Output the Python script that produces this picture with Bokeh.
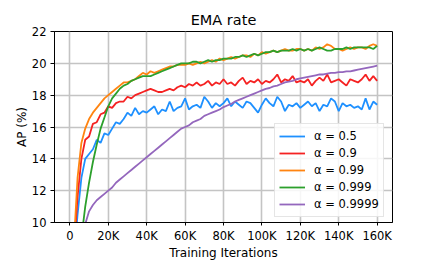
from bokeh.plotting import figure
from bokeh.models import Range1d, FixedTicker, Legend, LegendItem
from bokeh.embed import file_html
from bokeh.resources import INLINE

# training iterations (every 2K)
iterations = list(range(2000, 162000, 2000))

ap_a05 = [7.5, 10.5, 12.8, 14.0, 14.3, 14.6, 15.2, 15.0, 15.6, 15.5,
          15.9, 16.3, 16.2, 16.5, 16.9, 16.7, 17.2, 16.8, 17.0, 16.9,
          17.1, 17.3, 16.8, 17.1, 17.0, 17.6, 17.0, 17.2, 17.3, 17.8,
          17.1, 17.3, 17.4, 17.2, 17.9, 17.6, 17.2, 17.5, 17.3, 17.5,
          17.8, 17.3, 17.6, 17.4, 17.2, 17.6, 17.5, 17.2, 16.9, 17.4,
          17.8, 17.5, 17.3, 17.9, 17.6, 17.0, 17.4, 17.3, 17.5, 17.2,
          17.4, 17.6, 17.3, 17.5, 17.0, 17.4, 17.3, 17.8, 17.6, 17.0,
          17.5, 17.3, 17.4, 17.2, 17.3, 17.1, 17.8, 17.1, 17.6, 17.4]

ap_a09 = [8.0, 11.6, 14.0, 15.2, 15.4, 16.2, 16.3, 16.8, 16.9, 17.3,
          17.2, 17.5, 17.6, 17.6, 17.9, 17.8, 18.0, 18.1, 18.2, 18.3,
          18.4, 18.3, 18.2, 18.2, 18.3, 18.4, 18.3, 18.5, 18.6, 18.5,
          18.7, 18.6, 18.8, 18.6, 18.7, 18.9, 18.6, 18.8, 18.7, 19.0,
          18.7, 18.8, 18.6, 18.9, 19.1, 18.7, 18.9, 18.8, 19.0, 18.7,
          18.9, 18.8, 19.0, 19.3, 18.8, 19.0, 18.9, 19.2, 18.8, 18.9,
          18.8, 19.0, 18.6, 18.9, 19.1, 18.9, 19.3, 18.8, 18.9, 19.0,
          18.8, 18.6, 19.0, 18.9, 18.8, 19.0, 19.3, 18.9, 19.2, 18.9]

ap_a099 = [8.5, 12.8, 15.0, 15.9, 16.5, 16.9, 17.2, 17.5, 17.8, 18.0,
           18.2, 18.4, 18.6, 18.8, 18.8, 18.9, 19.0, 19.2, 19.4, 19.3,
           19.5, 19.4, 19.5, 19.6, 19.7, 19.8, 19.8, 19.9, 19.9, 19.9,
           20.0, 19.9, 20.0, 20.1, 20.0, 20.1, 20.2, 20.1, 20.3, 20.2,
           20.3, 20.4, 20.3, 20.4, 20.5, 20.5, 20.4, 20.6, 20.5, 20.7,
           20.6, 20.7, 20.8, 20.7, 20.8, 20.9, 20.8, 20.8, 20.9, 20.9,
           20.8, 20.9, 20.8, 21.0, 20.9, 21.0, 21.2, 21.1, 20.9, 20.9,
           20.8, 20.9, 21.0, 20.9, 21.0, 21.0, 20.9, 21.1, 21.2, 21.1]

ap_a0999 = [4.0, 6.5, 9.0, 11.0, 12.5, 13.8, 14.9, 15.9, 16.6, 17.3,
            17.8, 18.1, 18.4, 18.6, 18.7, 18.9, 19.0, 19.1, 19.2, 19.2,
            19.2, 19.3, 19.4, 19.5, 19.6, 19.7, 19.8, 19.9, 20.0, 20.0,
            20.0, 20.1, 20.1, 20.0, 20.1, 20.2, 20.1, 20.2, 20.2, 20.3,
            20.3, 20.3, 20.4, 20.4, 20.5, 20.4, 20.5, 20.6, 20.5, 20.6,
            20.7, 20.7, 20.8, 20.7, 20.8, 20.8, 20.8, 20.9, 20.8, 20.9,
            20.8, 20.9, 20.8, 20.9, 21.0, 20.9, 20.8, 20.8, 20.9, 20.9,
            20.9, 21.0, 20.9, 21.0, 21.0, 21.0, 21.0, 21.0, 20.9, 21.1]

ap_a09999 = [6.0, 7.5, 8.8, 9.9, 10.7, 11.1, 11.4, 11.6, 11.8, 12.0,
             12.2, 12.5, 12.7, 12.9, 13.1, 13.3, 13.5, 13.7, 13.9, 14.1,
             14.3, 14.5, 14.7, 14.9, 15.1, 15.3, 15.5, 15.7, 15.9, 16.0,
             16.1, 16.3, 16.4, 16.5, 16.7, 16.8, 16.9, 17.0, 17.1, 17.25,
             17.35, 17.45, 17.6, 17.7, 17.8, 17.9, 18.0, 18.1, 18.2, 18.3,
             18.4, 18.45, 18.55, 18.6, 18.7, 18.8, 18.85, 18.9, 19.0, 19.05,
             19.1, 19.15, 19.2, 19.25, 19.3, 19.3, 19.35, 19.4, 19.4, 19.45,
             19.45, 19.5, 19.5, 19.55, 19.6, 19.65, 19.7, 19.75, 19.8, 19.85]

series = [ap_a05, ap_a09, ap_a099, ap_a0999, ap_a09999]
series_labels = ["α = 0.5", "α = 0.9", "α = 0.99", "α = 0.999", "α = 0.9999"]
series_colors = ["#1e90ff", "#f52222", "#ff8411", "#2ca02c", "#9467bd"]

x_ticks = [0, 20000, 40000, 60000, 80000, 100000, 120000, 140000, 160000]
x_tick_labels = ["0", "20K", "40K", "60K", "80K", "100K", "120K", "140K", "160K"]
y_ticks = [10, 12, 14, 16, 18, 20, 22]

FONT = "DejaVu Sans"

p = figure(width=436, height=262, output_backend="svg", toolbar_location=None,
           x_range=Range1d(-8000, 168000), y_range=Range1d(10, 22),
           min_border_left=54, min_border_right=44, min_border_top=31,
           min_border_bottom=40, title="EMA rate")

p.title.text_font = FONT
p.title.text_font_size = "14.5px"
p.title.text_font_style = "normal"
p.title.text_color = "black"
p.title.align = "center"
p.title.standoff = 8

p.outline_line_color = "black"
p.outline_line_alpha = 1
p.outline_line_width = 1

p.xaxis.ticker = FixedTicker(ticks=x_ticks)
p.xaxis.major_label_overrides = {t: l for t, l in zip(x_ticks, x_tick_labels)}
p.yaxis.ticker = FixedTicker(ticks=y_ticks)
p.xaxis.axis_label = "Training Iterations"
p.yaxis.axis_label = "AP (%)"

for ax in [p.xaxis[0], p.yaxis[0]]:
    ax.axis_line_color = "black"
    ax.major_tick_line_color = "black"
    ax.major_tick_out = 4
    ax.major_tick_in = 0
    ax.minor_tick_out = 0
    ax.minor_tick_in = 0
    ax.major_label_text_font = FONT
    ax.major_label_text_font_size = "11.5px"
    ax.major_label_text_color = "black"
    ax.axis_label_text_font = FONT
    ax.axis_label_text_font_size = "12px"
    ax.axis_label_text_font_style = "normal"
    ax.axis_label_text_color = "black"
    ax.axis_label_standoff = 0
    ax.major_label_standoff = 4

p.xaxis.axis_label_standoff = 0
p.xaxis.major_label_standoff = 3
p.xaxis.major_tick_out = 3

p.grid.grid_line_color = "#c4c4c4"
p.grid.grid_line_width = 1.6

items = []
for vals, lab, col in zip(series, series_labels, series_colors):
    r = p.line(iterations, vals, line_color=col, line_width=1.8)
    items.append(LegendItem(label=lab, renderers=[r]))

legend = Legend(items=items, location=(220, 5), orientation="vertical")
legend.label_text_font = FONT
legend.label_text_font_size = "11.5px"
legend.label_text_color = "black"
legend.glyph_width = 26
legend.glyph_height = 16
legend.label_height = 16
legend.label_standoff = 9
legend.spacing = 1
legend.padding = 4
legend.margin = 0
legend.border_line_color = "#cccccc"
legend.border_line_width = 1
legend.background_fill_color = "white"
legend.background_fill_alpha = 0.85
p.add_layout(legend)

open("out.html", "w").write(file_html(p, INLINE))
